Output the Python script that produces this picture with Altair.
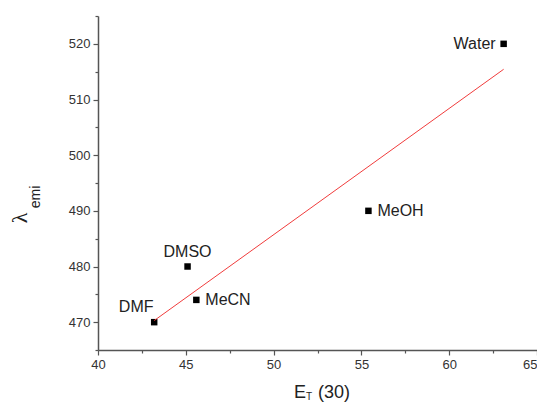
import altair as alt
import pandas as pd

solvents = ["DMF", "DMSO", "MeCN", "MeOH", "Water"]
et30 = [43.2, 45.1, 45.6, 55.4, 63.1]
lam_emi = [470, 480, 474, 490, 520]

x_major = [40, 45, 50, 55, 60]
x_last = [65]
x_minor = [42.5, 47.5, 52.5, 57.5, 62.5]
y_major = [470, 480, 490, 500, 510, 520]
y_minor = [465, 475, 485, 495, 505, 515, 525]

df = pd.DataFrame({"solvent": solvents, "et": et30, "lam": lam_emi})

FONT = "Liberation Sans"
xs = alt.Scale(domain=[40, 65], nice=False, zero=False)
ys = alt.Scale(domain=[465, 525], nice=False, zero=False)

base = alt.Chart(df)

points = base.mark_square(size=42, color="black", opacity=1).encode(
    x=alt.X("et:Q", scale=xs, axis=alt.Axis(values=x_major, orient="bottom", tickSize=5, title=None, labelFlush=False)),
    y=alt.Y("lam:Q", scale=ys, axis=alt.Axis(values=y_major, orient="left", tickSize=5, title=None, labelFlush=False)),
)

fit = base.transform_regression("et", "lam").mark_line(color="#f03c3c", strokeWidth=1).encode(
    x=alt.X("et:Q", scale=xs, axis=alt.Axis(values=x_minor, orient="bottom", tickSize=3, labels=False, domain=False, title=None)),
    y=alt.Y("lam:Q", scale=ys, axis=alt.Axis(values=y_minor, orient="left", tickSize=3, labels=False, domain=False, title=None)),
)

def labels(names, xaxis=None, **kw):
    return base.transform_filter(alt.FieldOneOfPredicate(field="solvent", oneOf=names)).mark_text(
        font=FONT, fontSize=16, color="#222", baseline="middle", **kw
    ).encode(
        x=alt.X("et:Q", scale=xs, axis=xaxis),
        y=alt.Y("lam:Q", scale=ys, axis=None),
        text="solvent:N",
    )

last_axis = alt.Axis(values=x_last, orient="bottom", tickSize=5, title=None, labelFlush=True, domain=False)
lab_right = labels(["MeOH", "MeCN"], xaxis=last_axis, align="left", dx=9)
lab_left = labels(["Water"], align="right", dx=-8)
lab_dmso = labels(["DMSO"], align="center", dy=-15)
lab_dmf = labels(["DMF"], align="center", dx=-18, dy=-15)

def title_text(txt, x, y, size, angle=0, align="center", font=FONT):
    return alt.Chart(pd.DataFrame({"t": [txt]})).mark_text(
        font=font, fontSize=size, color="#222", angle=angle, align=align, baseline="alphabetic"
    ).encode(x=alt.value(x), y=alt.value(y), text="t:N")

t_lam = title_text("λ", -71, 202, 22, angle=270, font="Liberation Serif")
t_emi = title_text("emi", -58, 181, 14, angle=270)
t_E = title_text("E", 202, 382, 18)
t_T = title_text("T", 211, 384, 10)
t_30 = title_text("(30)", 220, 382, 18, align="left")

chart = alt.layer(
    points, fit, lab_right, lab_left, lab_dmso, lab_dmf, t_lam, t_emi, t_E, t_T, t_30
).resolve_axis(x="independent", y="independent").properties(
    width=439,
    height=334,
    autosize=alt.AutoSizeParams(type="none"),
    padding={"left": 90, "top": 8, "right": 0, "bottom": 52},
).configure_view(stroke=None).configure_axis(
    grid=False,
    domainColor="#555",
    domainWidth=1.5,
    tickColor="#555",
    tickWidth=1.2,
    labelFont=FONT,
    labelFontSize=13,
    labelColor="#333",
    labelPadding=3,
)

chart.save("out.html", embed_options={"renderer": "svg", "actions": False})
